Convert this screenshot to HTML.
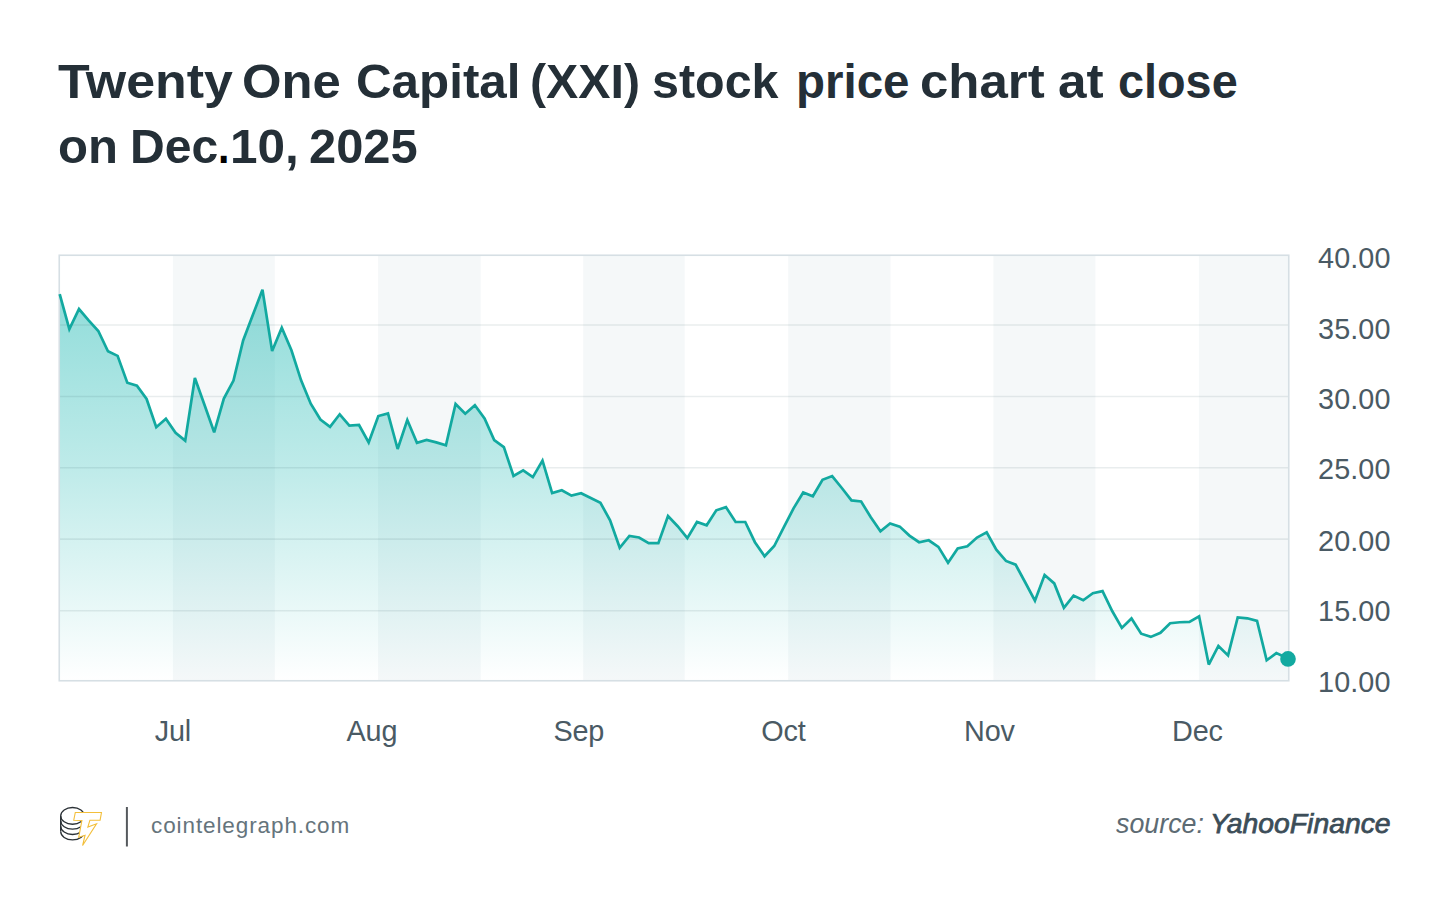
<!DOCTYPE html>
<html><head><meta charset="utf-8">
<style>
html,body{margin:0;padding:0;background:#fff;}
body{width:1450px;height:907px;position:relative;overflow:hidden;font-family:"Liberation Sans",sans-serif;}
.tw{position:absolute;top:52px;font-weight:bold;font-size:48px;line-height:60px;color:#242f37;white-space:nowrap;transform-origin:0 0;}
.tw2{position:absolute;transform-origin:0 0;top:117px;font-weight:bold;font-size:48px;line-height:60px;color:#242f37;white-space:nowrap;}
.yl{position:absolute;left:1300.6px;width:90px;text-align:right;font-size:28.8px;line-height:34px;color:#4a5a64;letter-spacing:0.1px;}
.ml{position:absolute;top:714.3px;width:120px;text-align:center;font-size:28.8px;line-height:34px;color:#4a5a64;letter-spacing:-0.2px;}
svg{position:absolute;left:0;top:0;}
.brand{position:absolute;left:151px;top:811px;font-size:22.5px;line-height:30px;color:#65747c;letter-spacing:0.9px;white-space:nowrap;}
.src1{position:absolute;top:806px;font-size:28px;line-height:36px;color:#5d6b73;font-style:italic;white-space:nowrap;transform-origin:0 0;}
.src2{position:absolute;top:806px;font-size:28px;line-height:36px;color:#3c4d58;font-style:italic;font-weight:normal;-webkit-text-stroke:0.75px #3c4d58;white-space:nowrap;transform-origin:0 0;}
</style></head><body>
<span class="tw" style="left:58.02px;transform:scaleX(1.0806)">Twenty</span>
<span class="tw" style="left:242.38px;transform:scaleX(1.0578)">One</span>
<span class="tw" style="left:356.24px;transform:scaleX(1.0277)">Capital</span>
<span class="tw" style="left:529.99px;transform:scaleX(1.0057)">(XXI)</span>
<span class="tw" style="left:652.48px;transform:scaleX(1.0089)">stock</span>
<span class="tw" style="left:796.33px;transform:scaleX(0.9891)">price</span>
<span class="tw" style="left:920.48px;transform:scaleX(1.0617)">chart</span>
<span class="tw" style="left:1057.73px;transform:scaleX(1.0683)">at</span>
<span class="tw" style="left:1118.05px;transform:scaleX(0.9748)">close</span>
<span class="tw2" style="left:58.46px;transform:scaleX(1.0222)">on</span>
<span class="tw2" style="left:129.80px;transform:scaleX(1.0012)">Dec</span>
<span class="tw2" style="left:218.43px;transform:scaleX(0.8571);color:#000">.</span>
<span class="tw2" style="left:229.51px;transform:scaleX(1.0311)">10,</span>
<span class="tw2" style="left:308.67px;transform:scaleX(1.0175)">2025</span>

<svg width="1450" height="907" viewBox="0 0 1450 907">
<defs>
<linearGradient id="fg" x1="0" y1="255" x2="0" y2="681" gradientUnits="userSpaceOnUse">
<stop offset="0" stop-color="#0fb4ae" stop-opacity="0.5"/>
<stop offset="0.5" stop-color="#0fb4ae" stop-opacity="0.27"/>
<stop offset="1" stop-color="#0fb4ae" stop-opacity="0.0"/>
</linearGradient>
</defs>
<rect x="172.9" y="255" width="101.9" height="426" fill="#f5f8f9"/>
<rect x="378.1" y="255" width="102.6" height="426" fill="#f5f8f9"/>
<rect x="583.2" y="255" width="101.5" height="426" fill="#f5f8f9"/>
<rect x="788.2" y="255" width="102.3" height="426" fill="#f5f8f9"/>
<rect x="993.4" y="255" width="102.0" height="426" fill="#f5f8f9"/>
<rect x="1198.9" y="255" width="90.1" height="426" fill="#f5f8f9"/>
<path d="M59.5,681 L59.5,294.10 L59.69,294.10 L69.34,329.10 L79.00,309.00 L88.65,320.30 L98.31,331.00 L107.97,351.30 L117.62,355.90 L127.28,382.75 L136.93,385.60 L146.59,399.00 L156.25,427.20 L165.90,418.75 L175.56,432.80 L185.21,440.60 L194.87,378.00 L204.53,405.00 L214.18,432.30 L223.84,398.60 L233.49,380.60 L243.15,340.50 L252.81,315.10 L262.46,289.70 L272.12,351.10 L281.77,327.80 L291.43,350.30 L301.09,380.30 L310.74,403.75 L320.40,419.50 L330.05,426.90 L339.71,414.30 L349.37,425.60 L359.02,425.00 L368.68,442.40 L378.33,416.00 L387.99,413.40 L397.65,449.00 L407.30,420.00 L416.96,442.80 L426.61,440.00 L436.27,442.40 L445.93,445.25 L455.58,404.00 L465.24,413.75 L474.89,405.30 L484.55,418.40 L494.21,440.00 L503.86,447.10 L513.52,476.00 L523.17,470.40 L532.83,477.10 L542.49,460.60 L552.14,493.10 L561.80,490.25 L571.45,495.60 L581.11,493.20 L590.77,498.00 L600.42,502.80 L610.08,520.25 L619.73,547.80 L629.39,536.00 L639.05,537.50 L648.70,543.10 L658.36,543.10 L668.01,516.00 L677.67,526.25 L687.33,538.10 L696.98,522.00 L706.64,525.30 L716.29,510.30 L725.95,507.10 L735.61,522.00 L745.26,522.00 L754.92,542.20 L764.57,556.25 L774.23,546.00 L783.88,527.20 L793.54,508.40 L803.20,492.50 L812.85,496.25 L822.51,479.75 L832.16,476.10 L841.82,488.00 L851.48,500.40 L861.13,501.50 L870.79,517.25 L880.45,531.30 L890.10,523.40 L899.76,526.60 L909.41,535.60 L919.07,542.20 L928.73,540.30 L938.38,546.90 L948.04,562.80 L957.69,548.40 L967.35,546.30 L977.01,537.50 L986.66,532.40 L996.32,549.70 L1005.97,560.90 L1015.63,564.70 L1025.29,582.50 L1034.94,600.70 L1044.60,575.00 L1054.25,583.40 L1063.91,607.80 L1073.57,595.60 L1083.22,600.30 L1092.88,593.20 L1102.53,591.10 L1112.19,611.00 L1121.85,627.90 L1131.50,618.50 L1141.16,633.70 L1150.81,636.90 L1160.47,632.75 L1170.12,623.20 L1179.78,622.25 L1189.44,621.90 L1199.09,616.25 L1208.75,664.60 L1218.40,646.00 L1228.06,655.40 L1237.72,617.40 L1247.37,618.30 L1257.03,620.90 L1266.68,660.30 L1276.34,653.10 L1288.00,658.50 L1288.00,681 Z" fill="url(#fg)"/>
<line x1="59" y1="325" x2="1289" y2="325" stroke="#2a4a55" stroke-opacity="0.1" stroke-width="1.6"/>
<line x1="59" y1="396.5" x2="1289" y2="396.5" stroke="#2a4a55" stroke-opacity="0.1" stroke-width="1.6"/>
<line x1="59" y1="467.8" x2="1289" y2="467.8" stroke="#2a4a55" stroke-opacity="0.1" stroke-width="1.6"/>
<line x1="59" y1="539.1" x2="1289" y2="539.1" stroke="#2a4a55" stroke-opacity="0.1" stroke-width="1.6"/>
<line x1="59" y1="610.7" x2="1289" y2="610.7" stroke="#2a4a55" stroke-opacity="0.1" stroke-width="1.6"/>
<rect x="59.25" y="255.25" width="1229.5" height="425.5" fill="none" stroke="#d6dfe4" stroke-width="1.6"/>
<polyline points="59.69,294.10 69.34,329.10 79.00,309.00 88.65,320.30 98.31,331.00 107.97,351.30 117.62,355.90 127.28,382.75 136.93,385.60 146.59,399.00 156.25,427.20 165.90,418.75 175.56,432.80 185.21,440.60 194.87,378.00 204.53,405.00 214.18,432.30 223.84,398.60 233.49,380.60 243.15,340.50 252.81,315.10 262.46,289.70 272.12,351.10 281.77,327.80 291.43,350.30 301.09,380.30 310.74,403.75 320.40,419.50 330.05,426.90 339.71,414.30 349.37,425.60 359.02,425.00 368.68,442.40 378.33,416.00 387.99,413.40 397.65,449.00 407.30,420.00 416.96,442.80 426.61,440.00 436.27,442.40 445.93,445.25 455.58,404.00 465.24,413.75 474.89,405.30 484.55,418.40 494.21,440.00 503.86,447.10 513.52,476.00 523.17,470.40 532.83,477.10 542.49,460.60 552.14,493.10 561.80,490.25 571.45,495.60 581.11,493.20 590.77,498.00 600.42,502.80 610.08,520.25 619.73,547.80 629.39,536.00 639.05,537.50 648.70,543.10 658.36,543.10 668.01,516.00 677.67,526.25 687.33,538.10 696.98,522.00 706.64,525.30 716.29,510.30 725.95,507.10 735.61,522.00 745.26,522.00 754.92,542.20 764.57,556.25 774.23,546.00 783.88,527.20 793.54,508.40 803.20,492.50 812.85,496.25 822.51,479.75 832.16,476.10 841.82,488.00 851.48,500.40 861.13,501.50 870.79,517.25 880.45,531.30 890.10,523.40 899.76,526.60 909.41,535.60 919.07,542.20 928.73,540.30 938.38,546.90 948.04,562.80 957.69,548.40 967.35,546.30 977.01,537.50 986.66,532.40 996.32,549.70 1005.97,560.90 1015.63,564.70 1025.29,582.50 1034.94,600.70 1044.60,575.00 1054.25,583.40 1063.91,607.80 1073.57,595.60 1083.22,600.30 1092.88,593.20 1102.53,591.10 1112.19,611.00 1121.85,627.90 1131.50,618.50 1141.16,633.70 1150.81,636.90 1160.47,632.75 1170.12,623.20 1179.78,622.25 1189.44,621.90 1199.09,616.25 1208.75,664.60 1218.40,646.00 1228.06,655.40 1237.72,617.40 1247.37,618.30 1257.03,620.90 1266.68,660.30 1276.34,653.10 1288.00,658.50" fill="none" stroke="#12a9a0" stroke-width="2.7" stroke-linejoin="miter" stroke-miterlimit="3"/>
<circle cx="1288" cy="658.9" r="7.8" fill="#12a9a0"/>
<line x1="126.9" y1="807" x2="126.9" y2="846.5" stroke="#55595d" stroke-width="2"/>
</svg>
<svg width="50" height="50" viewBox="0 0 907 907" style="left:56px;top:802px">
<g fill="none" stroke="#2b3136" stroke-width="24">
<ellipse cx="300" cy="252" rx="215" ry="152"/>
<path d="M85,252 L85,535"/>
<path d="M85,340 A215,152 0 0 0 515,340"/>
<path d="M85,438 A215,152 0 0 0 515,438"/>
<path d="M85,535 A215,152 0 0 0 515,535"/>
</g>
<path d="M350,190 L825,190 L800,330 L615,330 L578,456 L735,395 L482,790 L527,603 L412,640 L470,336 L322,330 Z" fill="#fff" stroke="#f3bf3b" stroke-width="20" stroke-linejoin="miter"/>
</svg>
<div class="yl" style="top:241.2px">40.00</div>
<div class="yl" style="top:311.8px">35.00</div>
<div class="yl" style="top:382.4px">30.00</div>
<div class="yl" style="top:452.4px">25.00</div>
<div class="yl" style="top:523.9px">20.00</div>
<div class="yl" style="top:594.3px">15.00</div>
<div class="yl" style="top:664.8px">10.00</div>
<div class="ml" style="left:112.8px">Jul</div>
<div class="ml" style="left:311.9px">Aug</div>
<div class="ml" style="left:518.8px">Sep</div>
<div class="ml" style="left:723.4px">Oct</div>
<div class="ml" style="left:929.4px">Nov</div>
<div class="ml" style="left:1137.4px">Dec</div>
<div class="brand">cointelegraph.com</div>
<span class="src1" style="left:1116.2px;transform:scaleX(0.958)">source:</span>
<span class="src2" style="left:1210.0px;transform:scaleX(1.0115)">YahooFinance</span>
</body></html>
